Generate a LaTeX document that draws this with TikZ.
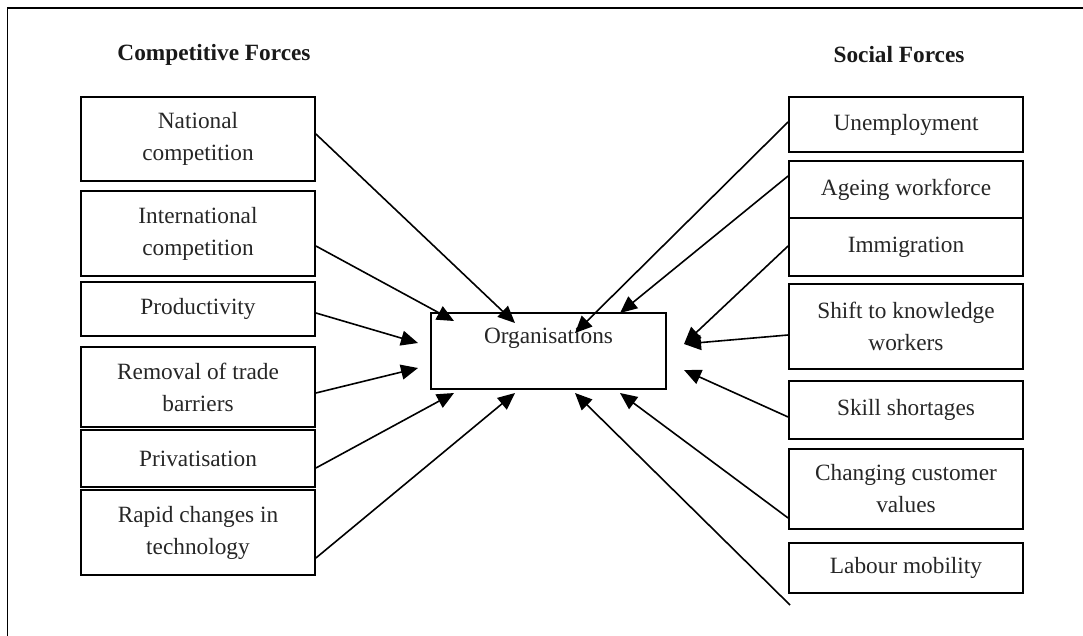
\documentclass[tikz,border=0pt]{standalone}
\usepackage{fontspec}
\setmainfont{Liberation Serif}
\usetikzlibrary{arrows.meta}
\begin{document}
\begin{tikzpicture}[x=1pt,y=-1pt,
  box/.style={draw, line width=1.8pt, inner sep=0pt, minimum width=234pt, align=center,
    font=\fontsize{23.3}{32}\selectfont, text=black!85},
  txt/.style={inner sep=0pt, font=\fontsize{23.3}{32}\selectfont, text=black!85},
  ttl/.style={inner sep=0pt, font=\fontsize{23.3}{28}\selectfont\bfseries, text=black!90},
  arr/.style={line width=1.6pt, -{Triangle[length=17pt,width=15pt]}}]
\useasboundingbox (0,0) rectangle (1083,636);
\draw[line width=1.6pt] (7.5,636) -- (7.5,8) -- (1083,8);

% titles
\node[ttl] (ct) at (214,55) {Competitive Forces};
\node[ttl] (st) at (899,55) {Social Forces};

% left boxes
\node[box, minimum height=84pt] (nat) at (198,139) {National\\competition};
\node[box, minimum height=85pt] (int) at (198,233.5) {International\\competition};
\node[box, minimum height=54pt] (pro) at (198,309) {Productivity};
\node[box, minimum height=80pt] (rem) at (198,387) {Removal of trade\\barriers};
\node[box, minimum height=57pt] (pri) at (198,458.5) {Privatisation};
\node[box, minimum height=85pt] (rap) at (198,532.5) {Rapid changes in\\technology};

% right boxes
\node[box, minimum height=55pt] (une) at (906,124.5) {Unemployment};
\node[box, minimum height=57pt] (age) at (906,189.5) {Ageing workforce};
\node[box, minimum height=58pt] (imm) at (906,247) {Immigration};
\node[box, minimum height=85pt] (shi) at (906,326.5) {Shift to knowledge\\workers};
\node[box, minimum height=58pt] (ski) at (906,410) {Skill shortages};
\node[box, minimum height=80pt] (cha) at (906,489) {Changing customer\\values};
\node[box, minimum height=50pt] (lab) at (906,568) {Labour mobility};

% centre
\node[box, minimum width=235pt, minimum height=76pt] (org) at (548.5,351) {};
\node[txt] (orgl) at (548.5,338) {Organisations};

% arrow tips and free end
\coordinate (tnat) at (515,323);
\coordinate (tint) at (454,321);
\coordinate (tpro) at (418,343);
\coordinate (trem) at (418,368);
\coordinate (tpri) at (454,393);
\coordinate (trap) at (515,393);
\coordinate (tune) at (575,333);
\coordinate (tage) at (620,313);
\coordinate (timm) at (684,344);
\coordinate (tshi) at (684,344);
\coordinate (tski) at (684,370);
\coordinate (tcha) at (620,393);
\coordinate (tlab) at (575,393);
\coordinate (flab) at (790,605);

% connectors
\draw[arr] ([yshift=5pt]nat.east) -- (tnat);
\draw[arr] ([yshift=-12.5pt]int.east) -- (tint);
\draw[arr] ([yshift=-4pt]pro.east) -- (tpro);
\draw[arr] ([yshift=-6pt]rem.east) -- (trem);
\draw[arr] ([yshift=-9.5pt]pri.east) -- (tpri);
\draw[arr] ([yshift=-25.5pt]rap.east) -- (trap);

\draw[arr] ([yshift=2.5pt]une.west) -- (tune);
\draw[arr] ([yshift=13.5pt]age.west) -- (tage);
\draw[arr] ([yshift=1pt]imm.west) -- (timm);
\draw[arr] ([yshift=-8.5pt]shi.west) -- (tshi);
\draw[arr] ([yshift=-7pt]ski.west) -- (tski);
\draw[arr] ([yshift=-29pt]cha.west) -- (tcha);
\draw[arr] (flab) -- (tlab);
\end{tikzpicture}
\end{document}
